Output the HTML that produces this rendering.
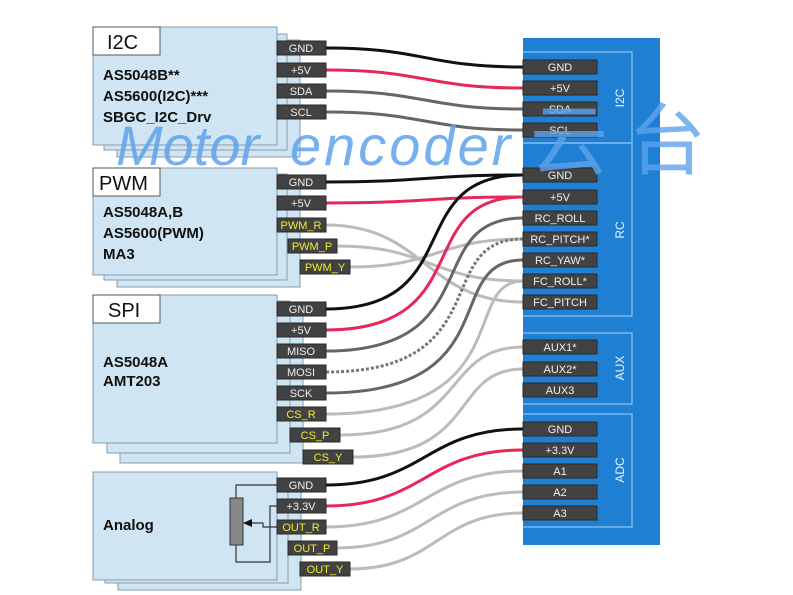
<!DOCTYPE html>
<html><head><meta charset="utf-8"><style>
html,body{margin:0;padding:0;background:#fff;width:793px;height:595px;overflow:hidden}
svg{display:block}
.pn{fill:#424242;stroke:#2a2a2a;stroke-width:1}
.tw{font:11px "Liberation Sans",sans-serif;fill:#f0f0f0;text-anchor:middle}
.ty{font:11px "Liberation Sans",sans-serif;fill:#f0ec30;text-anchor:middle}
.bx{fill:#cfe5f3;stroke:#8a9aa8;stroke-width:1}
.bt{font:bold 15px "Liberation Sans",sans-serif;fill:#111}
.hd{font:20px "Liberation Sans",sans-serif;fill:#111}
.w{fill:none;stroke-width:3}
</style></head><body>
<svg width="793" height="595" viewBox="0 0 793 595" xmlns="http://www.w3.org/2000/svg">
<!-- I2C boxes -->
<rect class="bx" x="117" y="40" width="183" height="117"/>
<rect class="bx" x="104" y="34" width="183" height="116"/>
<rect class="bx" x="93" y="27" width="184" height="118"/>
<rect x="93" y="27" width="67" height="28" fill="#fff" stroke="#555"/>
<text class="hd" x="107" y="49">I2C</text>
<text class="bt" x="103" y="80">AS5048B**</text>
<text class="bt" x="103" y="101">AS5600(I2C)***</text>
<text class="bt" x="103" y="122">SBGC_I2C_Drv</text>
<!-- PWM -->
<rect class="bx" x="117" y="180" width="183" height="107"/>
<rect class="bx" x="104" y="174" width="183" height="106"/>
<rect class="bx" x="93" y="168" width="184" height="107"/>
<rect x="93" y="168" width="67" height="28" fill="#fff" stroke="#555"/>
<text class="hd" x="99" y="190">PWM</text>
<text class="bt" x="103" y="217">AS5048A,B</text>
<text class="bt" x="103" y="238">AS5600(PWM)</text>
<text class="bt" x="103" y="259">MA3</text>
<!-- SPI -->
<rect class="bx" x="120" y="307" width="183" height="156"/>
<rect class="bx" x="107" y="301" width="183" height="152"/>
<rect class="bx" x="93" y="295" width="184" height="148"/>
<rect x="93" y="295" width="67" height="28" fill="#fff" stroke="#555"/>
<text class="hd" x="108" y="317">SPI</text>
<text class="bt" x="103" y="367">AS5048A</text>
<text class="bt" x="103" y="386">AMT203</text>
<!-- Analog -->
<rect class="bx" x="118" y="484" width="183" height="106"/>
<rect class="bx" x="105" y="478" width="183" height="105"/>
<rect class="bx" x="93" y="472" width="184" height="108"/>
<text class="bt" x="103" y="530">Analog</text>
<path d="M277 485 H236 V498 M236 545 V562 H270 V506 H277" fill="none" stroke="#333" stroke-width="1.2"/>
<rect x="230" y="498" width="13" height="47" fill="#888" stroke="#333"/>
<path d="M277 527 H263 V523 H250" fill="none" stroke="#333" stroke-width="1.2"/>
<path d="M243 523 L252 519 L252 527 Z" fill="#111"/>

<!-- Right panel -->
<rect x="523" y="38" width="137" height="507" fill="#1f80d3"/>
<g fill="none" stroke="#8cc4f0" stroke-width="1.2">
<path d="M523 52 H632 V143 H523"/>
<path d="M523 143 H632 V316 H523"/>
<path d="M523 333 H632 V404 H523"/>
<path d="M523 414 H632 V527 H523"/>
</g>
<g font-family="Liberation Sans,sans-serif" font-size="12" fill="#e8f3ff" text-anchor="middle">
<text transform="translate(624,98) rotate(-90)">I2C</text>
<text transform="translate(624,230) rotate(-90)">RC</text>
<text transform="translate(624,368) rotate(-90)">AUX</text>
<text transform="translate(624,470) rotate(-90)">ADC</text>
</g>

<!-- Wires -->
<g class="w">
<path d="M326 48 C425 48 425 67 523 67" stroke="#111"/>
<path d="M326 70 C425 70 425 88 523 88" stroke="#e5285a"/>
<path d="M326 91 C425 91 425 109 523 109" stroke="#666"/>
<path d="M326 112 C425 112 425 130 523 130" stroke="#666"/>
<path d="M326 182 C425 182 425 175 523 175" stroke="#111"/>
<path d="M326 203 C425 203 425 197 523 197" stroke="#e5285a"/>
<path d="M326 225 C425 225 425 302 523 302" stroke="#bbb"/>
<path d="M337 246 C430 246 430 281 523 281" stroke="#bbb"/>
<path d="M350 267 C437 267 437 239 523 239" stroke="#bbb"/>
<path d="M326 309 C470 309 400 175 523 175" stroke="#111"/>
<path d="M326 330 C480 330 410 197 523 197" stroke="#e5285a"/>
<path d="M326 351 C490 351 420 218 523 218" stroke="#666"/>
<path d="M326 372 C500 372 430 239 523 239" stroke="#777" stroke-dasharray="3 2"/>
<path d="M326 393 C510 393 440 260 523 260" stroke="#666"/>
<path d="M326 414 C520 414 460 281 523 281" stroke="#bbb"/>
<path d="M340 435 C470 435 440 347 523 347" stroke="#bbb"/>
<path d="M353 457 C480 457 450 369 523 369" stroke="#bbb"/>
<path d="M326 485 C425 485 425 429 523 429" stroke="#111"/>
<path d="M326 506 C425 506 425 450 523 450" stroke="#e5285a"/>
<path d="M326 527 C425 527 425 471 523 471" stroke="#bbb"/>
<path d="M337 548 C430 548 430 492 523 492" stroke="#bbb"/>
<path d="M350 569 C437 569 437 513 523 513" stroke="#bbb"/>
</g>

<!-- Left pins -->
<g>
<rect class="pn" x="277" y="41" width="49" height="14"/><text class="tw" x="301" y="52">GND</text>
<rect class="pn" x="277" y="63" width="49" height="14"/><text class="tw" x="301" y="74">+5V</text>
<rect class="pn" x="277" y="84" width="49" height="14"/><text class="tw" x="301" y="95">SDA</text>
<rect class="pn" x="277" y="105" width="49" height="14"/><text class="tw" x="301" y="116">SCL</text>
<rect class="pn" x="277" y="175" width="49" height="14"/><text class="tw" x="301" y="186">GND</text>
<rect class="pn" x="277" y="196" width="49" height="14"/><text class="tw" x="301" y="207">+5V</text>
<rect class="pn" x="277" y="218" width="49" height="14"/><text class="ty" x="301" y="229">PWM_R</text>
<rect class="pn" x="288" y="239" width="49" height="14"/><text class="ty" x="312" y="250">PWM_P</text>
<rect class="pn" x="300" y="260" width="50" height="14"/><text class="ty" x="325" y="271">PWM_Y</text>
<rect class="pn" x="277" y="302" width="49" height="14"/><text class="tw" x="301" y="313">GND</text>
<rect class="pn" x="277" y="323" width="49" height="14"/><text class="tw" x="301" y="334">+5V</text>
<rect class="pn" x="277" y="344" width="49" height="14"/><text class="tw" x="301" y="355">MISO</text>
<rect class="pn" x="277" y="365" width="49" height="14"/><text class="tw" x="301" y="376">MOSI</text>
<rect class="pn" x="277" y="386" width="49" height="14"/><text class="tw" x="301" y="397">SCK</text>
<rect class="pn" x="277" y="407" width="49" height="14"/><text class="ty" x="301" y="418">CS_R</text>
<rect class="pn" x="290" y="428" width="50" height="14"/><text class="ty" x="315" y="439">CS_P</text>
<rect class="pn" x="303" y="450" width="50" height="14"/><text class="ty" x="328" y="461">CS_Y</text>
<rect class="pn" x="277" y="478" width="49" height="14"/><text class="tw" x="301" y="489">GND</text>
<rect class="pn" x="277" y="499" width="49" height="14"/><text class="tw" x="301" y="510">+3.3V</text>
<rect class="pn" x="277" y="520" width="49" height="14"/><text class="ty" x="301" y="531">OUT_R</text>
<rect class="pn" x="288" y="541" width="49" height="14"/><text class="ty" x="312" y="552">OUT_P</text>
<rect class="pn" x="300" y="562" width="50" height="14"/><text class="ty" x="325" y="573">OUT_Y</text>
</g>
<!-- Right pins -->
<g>
<rect class="pn" x="523" y="60" width="74" height="14"/><text class="tw" x="560" y="71">GND</text>
<rect class="pn" x="523" y="81" width="74" height="14"/><text class="tw" x="560" y="92">+5V</text>
<rect class="pn" x="523" y="102" width="74" height="14"/><text class="tw" x="560" y="113">SDA</text>
<rect class="pn" x="523" y="123" width="74" height="14"/><text class="tw" x="560" y="134">SCL</text>
<rect class="pn" x="523" y="168" width="74" height="14"/><text class="tw" x="560" y="179">GND</text>
<rect class="pn" x="523" y="190" width="74" height="14"/><text class="tw" x="560" y="201">+5V</text>
<rect class="pn" x="523" y="211" width="74" height="14"/><text class="tw" x="560" y="222">RC_ROLL</text>
<rect class="pn" x="523" y="232" width="74" height="14"/><text class="tw" x="560" y="243">RC_PITCH*</text>
<rect class="pn" x="523" y="253" width="74" height="14"/><text class="tw" x="560" y="264">RC_YAW*</text>
<rect class="pn" x="523" y="274" width="74" height="14"/><text class="tw" x="560" y="285">FC_ROLL*</text>
<rect class="pn" x="523" y="295" width="74" height="14"/><text class="tw" x="560" y="306">FC_PITCH</text>
<rect class="pn" x="523" y="340" width="74" height="14"/><text class="tw" x="560" y="351">AUX1*</text>
<rect class="pn" x="523" y="362" width="74" height="14"/><text class="tw" x="560" y="373">AUX2*</text>
<rect class="pn" x="523" y="383" width="74" height="14"/><text class="tw" x="560" y="394">AUX3</text>
<rect class="pn" x="523" y="422" width="74" height="14"/><text class="tw" x="560" y="433">GND</text>
<rect class="pn" x="523" y="443" width="74" height="14"/><text class="tw" x="560" y="454">+3.3V</text>
<rect class="pn" x="523" y="464" width="74" height="14"/><text class="tw" x="560" y="475">A1</text>
<rect class="pn" x="523" y="485" width="74" height="14"/><text class="tw" x="560" y="496">A2</text>
<rect class="pn" x="523" y="506" width="74" height="14"/><text class="tw" x="560" y="517">A3</text>
</g>
<!-- Watermark -->
<text x="116" y="165" font-family="Liberation Sans,sans-serif" font-style="italic" font-size="56" fill="#5ea2ec" fill-opacity="0.85">Motor</text>
<text x="290" y="165" font-family="Liberation Sans,sans-serif" font-style="italic" font-size="56" fill="#5ea2ec" fill-opacity="0.85" letter-spacing="3">encoder</text>
<text x="530" y="168" font-family="WenQuanYi Zen Hei,Noto Sans CJK SC,sans-serif" font-size="78" fill="#5ea2ec" fill-opacity="0.8" letter-spacing="20">云台</text>
</svg>
</body></html>
